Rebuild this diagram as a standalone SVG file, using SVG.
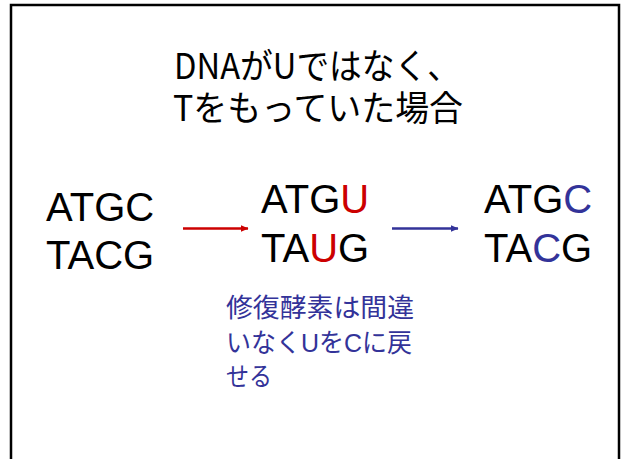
<svg xmlns="http://www.w3.org/2000/svg" width="624" height="459" viewBox="0 0 624 459">
<defs>
<style>
.title{font-family:"Noto Sans CJK JP","Noto Sans",sans-serif;font-size:35px;fill:#000}
.seq{font-family:"Liberation Sans",Arial,sans-serif;font-size:40px;fill:#000}
.red{fill:#CC0000}
.blue{fill:#333399}
.note{font-family:"Liberation Sans","Noto Sans CJK JP",sans-serif;font-size:26px;fill:#333399}
</style>
<marker id="ah-red" markerWidth="8" markerHeight="7" refX="7.5" refY="3.5" orient="auto" markerUnits="userSpaceOnUse"><path d="M0,0 L8,3.5 L0,7 z" fill="#CC0000"/></marker>
<marker id="ah-blue" markerWidth="8" markerHeight="7" refX="7.5" refY="3.5" orient="auto" markerUnits="userSpaceOnUse"><path d="M0,0 L8,3.5 L0,7 z" fill="#333399"/></marker>
</defs>
<rect x="0" y="0" width="624" height="459" fill="#fff"/>
<rect x="11" y="5" width="608" height="470" fill="none" stroke="#000" stroke-width="2.5"/>
<g id="title">
<text class="title" x="174" y="79" textLength="286" lengthAdjust="spacingAndGlyphs">DNAがUではなく、</text>
<text class="title" x="173" y="121" textLength="290" lengthAdjust="spacingAndGlyphs">Tをもっていた場合</text>
</g>
<g id="seq1">
<text class="seq" x="46" y="221">ATGC</text>
<text class="seq" x="46" y="269">TACG</text>
</g>
<g id="seq2">
<text class="seq" x="261" y="213">ATG<tspan class="red">U</tspan></text>
<text class="seq" x="261" y="262">TA<tspan class="red">U</tspan>G</text>
</g>
<g id="seq3">
<text class="seq" x="484" y="213">ATG<tspan class="blue">C</tspan></text>
<text class="seq" x="484" y="262">TA<tspan class="blue">C</tspan>G</text>
</g>
<g id="note">
<text class="note" x="226" y="317" textLength="188" lengthAdjust="spacingAndGlyphs">修復酵素は間違</text>
<text class="note" x="226" y="352" textLength="186" lengthAdjust="spacingAndGlyphs">いなくUをCに戻</text>
<text class="note" x="226" y="386" textLength="46" lengthAdjust="spacingAndGlyphs">せる</text>
</g>
<g id="connectors">
<line x1="183" y1="228.5" x2="248" y2="228.5" stroke="#CC0000" stroke-width="2.5" marker-end="url(#ah-red)"/>
<line x1="392" y1="228.5" x2="458" y2="228.5" stroke="#333399" stroke-width="2.5" marker-end="url(#ah-blue)"/>
</g>
</svg>
